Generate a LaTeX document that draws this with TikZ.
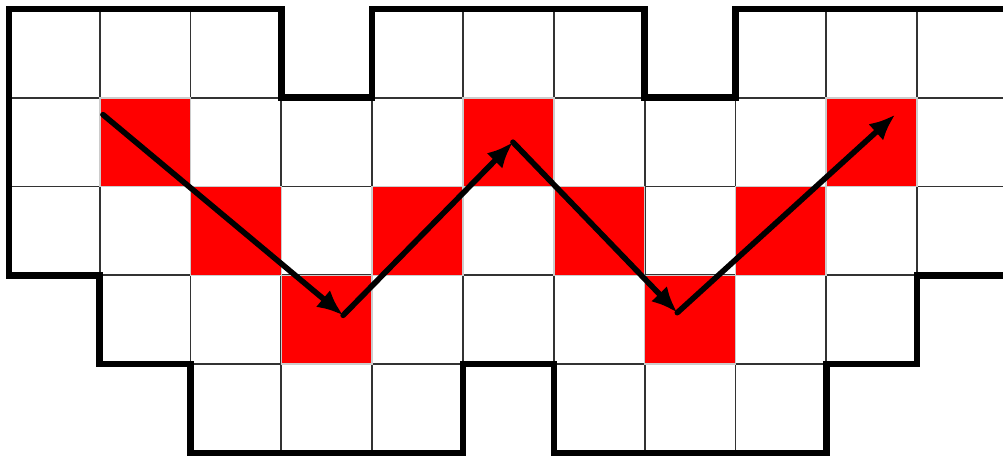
\documentclass[tikz,border=0pt]{standalone}
\usetikzlibrary{arrows.meta}

\begin{document}
\begin{tikzpicture}[x=45.4pt, y=44.4pt,
    cell/.style={draw=black!80, line width=0.9pt},
    hot/.style={fill=red, draw=black!20, line width=0.8pt},
    rim/.style={line width=3.3pt, line join=miter, line cap=rect},
    zig/.style={line width=2.8pt, line cap=round, -{Latex[length=13pt,width=11pt]}}]
\useasboundingbox (-0.099,0.101) rectangle (10.947,-5.068);
\clip (-0.099,0.101) rectangle (10.947,-5.068);
\fill[white] (-0.099,0.101) rectangle (10.947,-5.068);
% grid
\foreach \c in {0,1,2,4,5,6,8,9,10} \draw[cell] (\c,0) rectangle ++(1,-1);
\foreach \r in {1,2}
  \foreach \c in {0,...,10} \draw[cell] (\c,-\r) rectangle ++(1,-1);
\foreach \c in {1,...,9} \draw[cell] (\c,-3) rectangle ++(1,-1);
\foreach \c in {2,3,4,6,7,8} \draw[cell] (\c,-4) rectangle ++(1,-1);
% red zigzag cells
\foreach \c/\r in {1/1,5/1,9/1,2/2,4/2,6/2,8/2,3/3,7/3}
  \draw[hot] (\c,-\r) rectangle ++(1,-1);
% outline
\draw[rim] (11.2,0) -- (8,0) -- (8,-1) -- (7,-1) -- (7,0) -- (4,0) -- (4,-1)
  -- (3,-1) -- (3,0) -- (0,0) -- (0,-3) -- (1,-3) -- (1,-4) -- (2,-4)
  -- (2,-5) -- (5,-5) -- (5,-4) -- (6,-4) -- (6,-5) -- (9,-5) -- (9,-4)
  -- (10,-4) -- (10,-3) -- (11.2,-3);
% path
\coordinate (s) at (1.035,-1.19);
\coordinate (v1) at (3.68,-3.45);
\coordinate (v2) at (5.55,-1.50);
\coordinate (v3) at (7.36,-3.42);
\coordinate (e) at (9.76,-1.19);
\draw[zig] (s) -- (v1);
\draw[zig] (v1) -- (v2);
\draw[zig] (v2) -- (v3);
\draw[zig] (v3) -- (e);
\end{tikzpicture}
\end{document}
